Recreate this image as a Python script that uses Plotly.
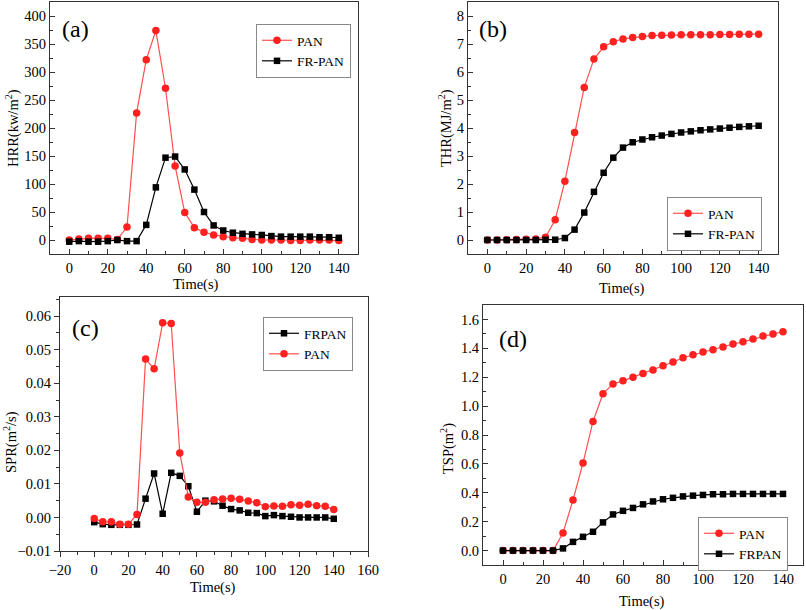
import plotly.graph_objects as go

time = [0, 5, 10, 15, 20, 25, 30, 35, 40, 45, 50, 55, 60, 65, 70, 75, 80, 85, 90, 95,
        100, 105, 110, 115, 120, 125, 130, 135, 140]

hrr_pan = [0, 2, 3, 3, 3, 1, 23, 227, 322, 374, 271, 132, 49, 22, 14, 9, 6, 4, 3, 1,
           0, 0, 0, -1, -1, 0, 0, 0, -1]
hrr_frpan = [-3, -2, -3, -3, -2, 0, -2, -2, 27, 94, 147, 149, 126, 90, 50, 26, 17, 13, 11, 10,
             9, 7, 6, 6, 6, 6, 5, 5, 4]

thr_pan = [0, 0, 0.01, 0.02, 0.03, 0.04, 0.1, 0.72, 2.1, 3.84, 5.45, 6.46, 6.9, 7.08, 7.18, 7.23,
           7.27, 7.3, 7.31, 7.32, 7.33, 7.33, 7.33, 7.33, 7.34, 7.34, 7.35, 7.35, 7.35]
thr_frpan = [0, 0, 0, 0, 0, 0, 0.01, 0.01, 0.07, 0.37, 0.98, 1.72, 2.4, 2.94, 3.3, 3.49,
             3.59, 3.67, 3.73, 3.79, 3.84, 3.88, 3.92, 3.95, 3.98, 4.01, 4.04, 4.06, 4.08]

spr_frpan = [-0.0014, -0.002, -0.0022, -0.0022, -0.0022, -0.0021, 0.0056, 0.0131, 0.0011, 0.0133,
             0.0124, 0.0093, 0.0017, 0.005, 0.0048, 0.0035, 0.0025, 0.0021, 0.0014, 0.0013,
             0.0004, 0.0007, 0.0004, 0.0002, 0.0, 0.0, 0.0, 0.0, -0.0004]
spr_pan = [-0.0003, -0.0013, -0.0013, -0.002, -0.002, 0.0009, 0.0472, 0.0443, 0.058, 0.0578,
           0.0192, 0.0061, 0.0045, 0.0045, 0.0053, 0.0055, 0.0057, 0.0054, 0.0049, 0.0044,
           0.0032, 0.0034, 0.0033, 0.0038, 0.0036, 0.0039, 0.0035, 0.0033, 0.0024]

tsp_pan = [0, 0, 0, 0, 0, 0, 0.122, 0.35, 0.606, 0.894, 1.086, 1.153, 1.175, 1.2, 1.225, 1.25,
           1.28, 1.305, 1.335, 1.355, 1.375, 1.39, 1.41, 1.43, 1.445, 1.465, 1.485, 1.5, 1.515]
tsp_frpan = [0, 0, 0, 0, 0, 0, 0.015, 0.06, 0.095, 0.13, 0.195, 0.25, 0.275, 0.295, 0.32, 0.34,
             0.355, 0.365, 0.375, 0.38, 0.385, 0.39, 0.39, 0.392, 0.392, 0.392, 0.392, 0.392, 0.392]

W, H = 806, 610
FONT = "Liberation Serif, Times New Roman, serif"
RED_M = "#ff2020"
RED_L = "#ff5050"
BLK = "#000000"


def px(x):
    return x / W


def py(y):
    return 1 - y / H


fig = go.Figure()


def add_pan(x, y, xa, ya, leg, name="PAN"):
    fig.add_trace(go.Scatter(x=x, y=y, mode="lines+markers", name=name,
                             line=dict(color=RED_L, width=1.2),
                             marker=dict(symbol="circle", size=7.5, color=RED_M),
                             xaxis=xa, yaxis=ya, legend=leg))


def add_fr(x, y, xa, ya, leg, name):
    fig.add_trace(go.Scatter(x=x, y=y, mode="lines+markers", name=name,
                             line=dict(color=BLK, width=1.2),
                             marker=dict(symbol="square", size=6.5, color=BLK),
                             xaxis=xa, yaxis=ya, legend=leg))


add_pan(time, hrr_pan, "x", "y", "legend")
add_fr(time, hrr_frpan, "x", "y", "legend", "FR-PAN")
add_pan(time, thr_pan, "x2", "y2", "legend2")
add_fr(time, thr_frpan, "x2", "y2", "legend2", "FR-PAN")
add_fr(time, spr_frpan, "x3", "y3", "legend3", "FRPAN")
add_pan(time, spr_pan, "x3", "y3", "legend3")
add_pan(time, tsp_pan, "x4", "y4", "legend4")
add_fr(time, tsp_frpan, "x4", "y4", "legend4", "FRPAN")

tickfont = dict(family=FONT, size=14.5, color="black")


def axis(domain, rng, dtick, minor_dtick, ticks, anchor, tick0=0):
    return dict(domain=domain, range=rng, dtick=dtick, tick0=tick0, showgrid=False,
                zeroline=False, showline=True, linecolor="#333", linewidth=1.2,
                mirror=True, ticks=ticks, ticklen=5, tickwidth=1, tickcolor="#333",
                tickfont=tickfont, anchor=anchor, automargin=False,
                minor=dict(dtick=minor_dtick, tick0=tick0, ticks=ticks, ticklen=3,
                           tickcolor="#333", showgrid=False))


dom = {
    "a": ([px(50), px(358)], [py(254), py(2)]),
    "b": ([px(468), px(778)], [py(254), py(2)]),
    "c": ([px(60), px(368)], [py(551), py(297)]),
    "d": ([px(483), px(803)], [py(565), py(305)]),
}

legend_common = dict(font=dict(family=FONT, size=13.5, color="black"), bgcolor="white",
                     bordercolor="#888", borderwidth=1, xanchor="left", yanchor="top",
                     itemwidth=30, tracegroupgap=0)

fig.update_layout(
    width=W, height=H, margin=dict(l=0, r=0, t=0, b=0, pad=0, autoexpand=False),
    paper_bgcolor="white", plot_bgcolor="white",
    font=dict(family=FONT, color="black"),
    xaxis=axis(dom["a"][0], [-10, 150], 20, 10, "inside", "y"),
    yaxis=axis(dom["a"][1], [-25, 425], 50, 25, "inside", "x"),
    xaxis2=axis(dom["b"][0], [-10, 150], 20, 10, "inside", "y2"),
    yaxis2=axis(dom["b"][1], [-0.5, 8.5], 1, 0.5, "inside", "x2"),
    xaxis3=axis(dom["c"][0], [-20, 160], 20, 10, "outside", "y3"),
    yaxis3=axis(dom["c"][1], [-0.01, 0.0657], 0.01, 0.005, "outside", "x3"),
    xaxis4=axis(dom["d"][0], [-10, 150], 20, 10, "inside", "y4"),
    yaxis4=axis(dom["d"][1], [-0.1, 1.7], 0.2, 0.1, "inside", "x4"),
    legend=dict(x=px(256), y=py(24), **legend_common),
    legend2=dict(x=px(667), y=py(197), **legend_common),
    legend3=dict(x=px(263), y=py(317), **legend_common),
    legend4=dict(x=px(698), y=py(517), **legend_common),
)

fig.update_layout(yaxis2_tickformat="d", yaxis3_tickformat=".2f", yaxis4_tickformat=".1f")

annos = [
    ("HRR(kw/m<sup>2</sup>)", 12, 128, -90),
    ("Time(s)", 196, 284, 0),
    ("THR(MJ/m<sup>2</sup>)", 445, 128, -90),
    ("Time(s)", 622, 288, 0),
    ("SPR(m<sup>2</sup>/s)", 10, 442, -90),
    ("Time(s)", 213, 587, 0),
    ("TSP(m<sup>2</sup>)", 447, 448, -90),
    ("Time(s)", 642, 601, 0),
]
for text, x, y, ang in annos:
    fig.add_annotation(text=text, x=px(x), y=py(y), xref="paper", yref="paper",
                       showarrow=False, textangle=ang, xanchor="center", yanchor="middle",
                       font=dict(family=FONT, size=14.5, color="black"))

labels = [("(a)", 75, 29), ("(b)", 493, 29), ("(c)", 85, 328), ("(d)", 513, 339)]
for text, x, y in labels:
    fig.add_annotation(text=text, x=px(x), y=py(y), xref="paper", yref="paper",
                       showarrow=False, xanchor="center", yanchor="middle",
                       font=dict(family=FONT, size=24, color="black"))

fig.write_html("out.html",
               config={"displayModeBar": False},
               post_script="document.body.style.margin='0';"
                           "document.body.style.padding='0';"
                           "document.body.style.overflow='hidden';")
